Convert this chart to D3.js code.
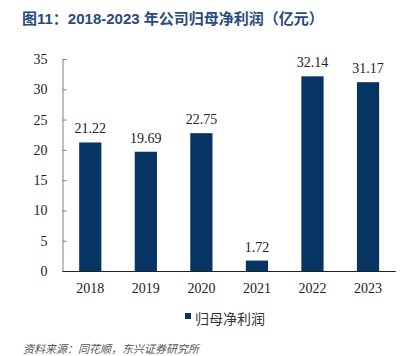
<!DOCTYPE html>
<html><head><meta charset="utf-8">
<script src="https://cdn.jsdelivr.net/npm/d3@7/dist/d3.min.js"></script>
<style>
body{margin:0;background:#fff;}
svg{display:block;}
</style></head>
<body><svg id="c" width="410" height="356"></svg>
<script>
const categories = ["2018","2019","2020","2021","2022","2023"];
const values = [21.22, 19.69, 22.75, 1.72, 32.14, 31.17];
const yTicks = [0,5,10,15,20,25,30,35];
const title = "图11：2018-2023 年公司归母净利润（亿元）";
const seriesName = "归母净利润";
const source = "资料来源：同花顺，东兴证券研究所";

const svg = d3.select("#c");
const serif = "'Liberation Serif','Times New Roman',serif";
const cjk = "'Noto Sans CJK SC','Noto Sans',sans-serif";
const barColor = "#063463";

const x = d3.scaleBand().domain(categories).range([62.5, 395.8]).paddingInner(0.6).paddingOuter(0.3);
const y = d3.scaleLinear().domain([0,35]).range([271,59]);

svg.append("text").attr("x",22).attr("y",24)
  .attr("font-family","'Liberation Sans',Arial,'Noto Sans CJK SC',sans-serif")
  .attr("font-weight","bold").attr("font-size",15).attr("fill","#2a4a7c")
  .text(title);

// y axis
const ya = svg.append("g").attr("transform","translate(62.5,0)")
  .call(d3.axisLeft(y).tickValues(yTicks).tickSizeInner(-4).tickSizeOuter(0).tickPadding(15));
ya.select(".domain").attr("stroke","#808080");
ya.selectAll(".tick line").attr("stroke","#808080");
ya.selectAll(".tick text").attr("font-family",serif).attr("font-size",14).attr("fill","#222");

// bars
svg.append("g").selectAll("rect").data(values).join("rect")
  .attr("x",(d,i)=>x(categories[i]))
  .attr("width",x.bandwidth())
  .attr("y",d=>y(d))
  .attr("height",d=>y(0)-y(d))
  .attr("fill",barColor);

// labels
svg.append("g").selectAll("text").data(values).join("text")
  .attr("x",(d,i)=>x(categories[i])+x.bandwidth()/2)
  .attr("y",d=>y(d)-9)
  .attr("text-anchor","middle")
  .attr("font-family",serif).attr("font-size",14).attr("fill","#222")
  .text(d=>d.toFixed(2));

// x axis
const xa = svg.append("g").attr("transform","translate(0,271)")
  .call(d3.axisBottom(x).tickSize(0).tickPadding(12));
xa.select(".domain").attr("stroke","#222").attr("d","M62.5,0.5H395.8");
xa.selectAll(".tick text").attr("font-family",serif).attr("font-size",14).attr("fill","#222");

// legend
svg.append("rect").attr("x",185).attr("y",313).attr("width",6).attr("height",6).attr("fill",barColor);
svg.append("text").attr("x",195).attr("y",324)
  .attr("font-family",cjk).attr("font-size",14).attr("fill","#333").text(seriesName);

// source
svg.append("text").attr("x",23).attr("y",353)
  .attr("font-family",cjk).attr("font-size",11).attr("font-style","italic").attr("fill","#555")
  .text(source);
</script></body></html>
